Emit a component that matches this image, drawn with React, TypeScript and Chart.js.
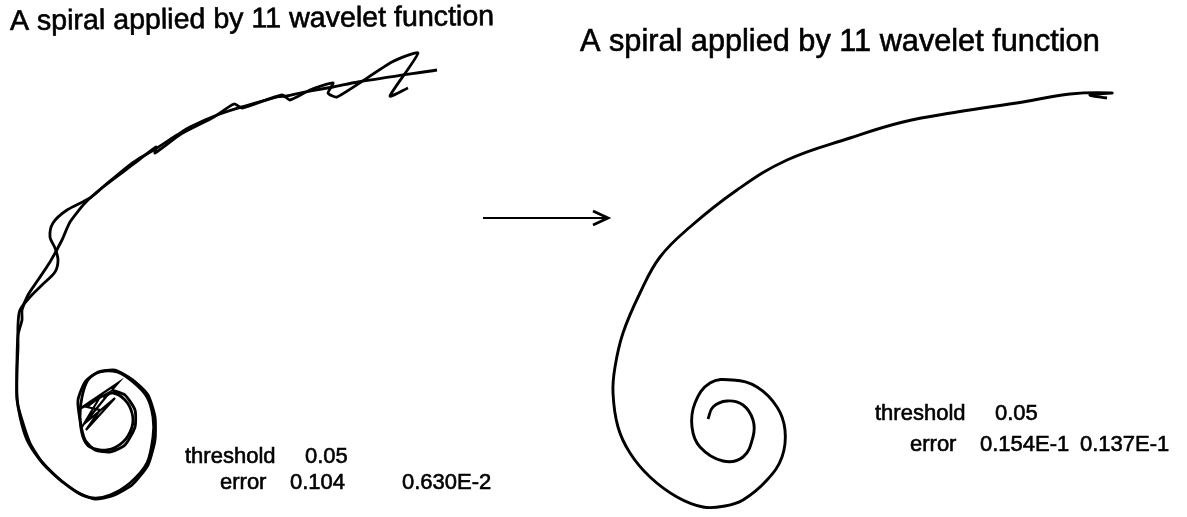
import React, { useEffect, useRef } from "react";
import { Chart, registerables } from "chart.js";

Chart.register(...registerables);

// Left panel: noisy reconstruction, strand A (outer end -> centre)
const leftStrandA: [number, number][] = [
  [437, 70], [358, 82], [333, 87], [300, 93], [287, 96], [277, 97], [245, 106], [217, 115],
  [190, 127], [177, 135], [157, 148], [140, 158], [127, 167], [103, 187], [90, 198], [67, 210],
  [53, 223], [50, 237], [55, 248], [58, 260], [55, 272], [42, 285], [30, 297], [20, 310],
  [18, 325], [18, 347], [17, 370], [17, 397], [20, 417], [27, 440], [40, 460], [57, 477],
  [77, 492], [93, 498], [110, 495], [130, 483], [147, 463], [153, 437], [153, 417], [147, 397],
  [133, 382], [117, 372], [100, 372], [88, 380], [82, 397], [80, 417], [83, 437], [90, 447],
  [107, 450], [123, 442], [132, 427], [132, 413], [125, 400], [113, 393], [103, 397],
];

// Left panel: strand B with the zig-zags (outer end -> centre)
const leftStrandB: [number, number][] = [
  [408, 88], [390, 96], [418, 53], [392, 62], [337, 97], [328, 93], [333, 83], [310, 90],
  [290, 100], [282, 95], [242, 108], [234, 104], [214, 117], [181, 134], [155, 153], [156, 147],
  [135, 163], [103, 187], [85, 203], [70, 222], [62, 240], [50, 262], [38, 280], [28, 295],
  [22, 310], [22, 320], [18, 335], [17, 360], [17, 400], [22, 420], [30, 443], [42, 462],
  [60, 480], [80, 494], [95, 499], [112, 496], [132, 485], [148, 465], [155, 440], [155, 417],
  [148, 395], [133, 380], [115, 370], [98, 372], [85, 382], [78, 400], [80, 420], [85, 440],
  [95, 450], [110, 452], [125, 445], [135, 427], [135, 410], [125, 395], [112, 390],
];

// Left panel: tangle in the centre
const leftTangle: [number, number][] = [
  [112, 390], [118, 383], [78, 410], [110, 392], [84, 424], [115, 398], [86, 430], [100, 410],
  [87, 407], [100, 397], [82, 427],
];

// Right panel: smooth reconstruction (outer end -> centre)
const rightSpiral: [number, number][] = [
  [1107, 98], [1090, 95], [1112, 93], [1070, 94], [1023, 102], [957, 112], [903, 122], [850, 138],
  [787, 160], [737, 190], [690, 227], [660, 257], [640, 293], [623, 333], [615, 367], [613, 393],
  [618, 427], [630, 453], [650, 477], [677, 497], [703, 507], [725, 506], [743, 500], [767, 480],
  [782, 457], [785, 430], [777, 407], [757, 387], [733, 380], [710, 383], [695, 403], [692, 427],
  [700, 447], [723, 461], [743, 457], [753, 437], [753, 420], [743, 405], [727, 401], [713, 407],
  [708, 419],
];

const arrowShaft: [number, number][] = [[483, 218], [608, 218]];
const arrowHead: [number, number][] = [[593, 211], [608, 218], [593, 225]];

const titleText = "A spiral applied by 11 wavelet function";
const leftLabels = ["threshold", "0.05", "error", "0.104", "0.630E-2"];
const rightLabels = ["threshold", "0.05", "error", "0.154E-1", "0.137E-1"];

const toPts = (arr: [number, number][]) => arr.map(([x, y]) => ({ x, y }));

export default function App() {
  const ref = useRef<HTMLCanvasElement | null>(null);

  useEffect(() => {
    if (!ref.current) return;
    const font = '"Liberation Sans", Arial, sans-serif';
    const textPlugin = {
      id: "texts",
      afterDraw(chart: any) {
        const ctx = chart.ctx;
        ctx.save();
        ctx.fillStyle = "#000";
        ctx.strokeStyle = "#000";
        ctx.lineWidth = 0.6;
        ctx.textBaseline = "alphabetic";
        ctx.textAlign = "left";
        const put = (t: string, x: number, y: number) => {
          ctx.fillText(t, x, y);
          ctx.strokeText(t, x, y);
        };
        // titles
        ctx.font = `28.6px ${font}`;
        ctx.save();
        ctx.translate(10, 30);
        ctx.rotate(-0.01);
        put(titleText, 0, 0);
        ctx.restore();
        ctx.font = `30.7px ${font}`;
        put(titleText, 580, 51);
        // annotations
        ctx.font = `22px ${font}`;
        put(leftLabels[0], 185, 463);
        put(leftLabels[1], 305, 463);
        put(leftLabels[2], 220, 489);
        put(leftLabels[3], 290, 489);
        put(leftLabels[4], 402, 489);
        put(rightLabels[0], 875, 420);
        put(rightLabels[1], 995, 420);
        put(rightLabels[2], 910, 451);
        put(rightLabels[3], 980, 451);
        put(rightLabels[4], 1080, 451);
        ctx.restore();
      },
    };

    const base = {
      showLine: true,
      borderColor: "#000",
      pointRadius: 0,
      fill: false,
    };

    const chart = new Chart(ref.current, {
      type: "scatter",
      data: {
        datasets: [
          { ...base, data: toPts(leftStrandA), borderWidth: 2.8, tension: 0.3 },
          { ...base, data: toPts(leftStrandB), borderWidth: 2.8, tension: 0.2 },
          { ...base, data: toPts(leftTangle), borderWidth: 2.2, tension: 0 },
          { ...base, data: toPts(rightSpiral), borderWidth: 2.9, tension: 0.4 },
          { ...base, data: toPts(arrowShaft), borderWidth: 2.2, tension: 0 },
          { ...base, data: toPts(arrowHead), borderWidth: 2.8, tension: 0 },
        ],
      } as any,
      options: {
        animation: false,
        responsive: false,
        maintainAspectRatio: false,
        layout: { padding: 0 },
        plugins: { legend: { display: false }, tooltip: { enabled: false }, title: { display: false } },
        scales: {
          x: { type: "linear", min: 0, max: 1187, display: false },
          y: { type: "linear", min: 0, max: 517, reverse: true, display: false },
        },
      } as any,
      plugins: [textPlugin],
    });
    return () => chart.destroy();
  }, []);

  return (
    <div style={{ position: "fixed", left: 0, top: 0, width: 1187, height: 517, background: "#fff" }}>
      <canvas ref={ref} width={1187} height={517} style={{ display: "block" }} />
    </div>
  );
}
